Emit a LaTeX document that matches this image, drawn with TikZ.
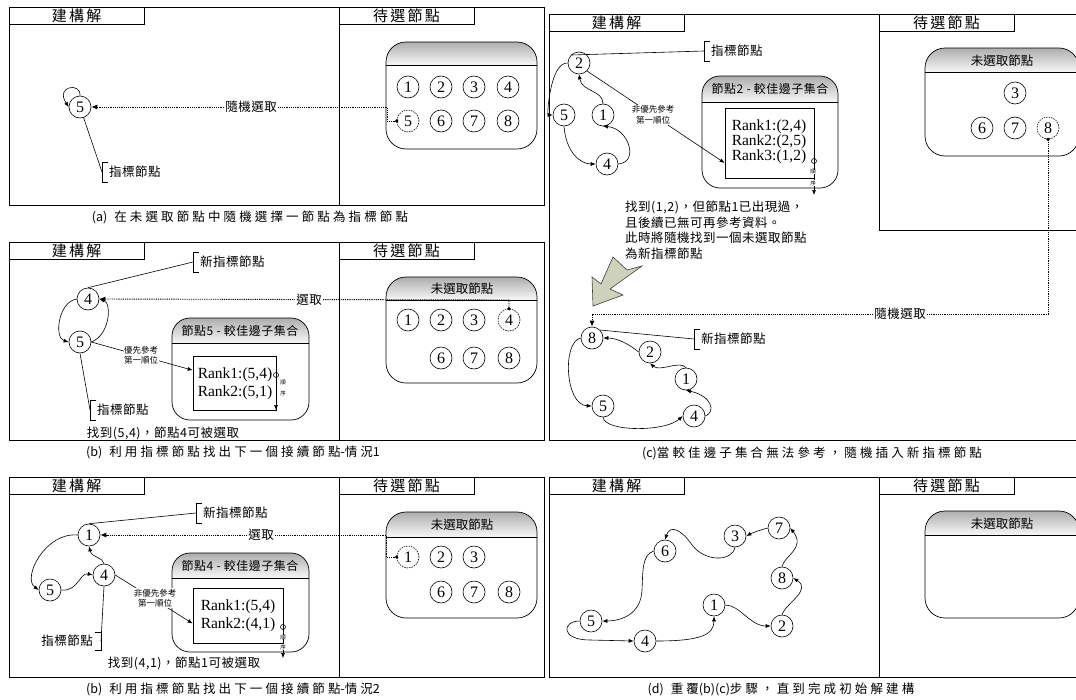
\documentclass[tikz,border=0pt]{standalone}
\usepackage{fontspec}
\setmainfont{Liberation Serif}
\newfontfamily\cjk{Noto Sans CJK TC}
\newfontfamily\cjkT[LetterSpace=15]{Noto Sans CJK TC}
\newfontfamily\cjkC[LetterSpace=25]{Noto Sans CJK TC}
\newfontfamily\cjkL[LetterSpace=4]{Noto Sans CJK TC}
\usetikzlibrary{arrows.meta}
\definecolor{arrowfill}{RGB}{207,210,186}
\newcommand\rbox[6]{%
  \begin{scope}
    \clip[rounded corners=#6] (#1,#2) rectangle (#3,#4);
    \shade[top color=black!32,bottom color=black!3] (#1,#2) rectangle (#3,#5);
  \end{scope}
  \draw[line width=0.7pt,rounded corners=#6] (#1,#2) rectangle (#3,#4);
  \draw[line width=0.7pt] (#1,#5) -- (#3,#5);
}
\newcommand\plain[1]{{\cjk #1}}
\tikzset{
  pan/.style={line width=0.7pt},
  vtx/.style={circle,draw,line width=0.6pt,minimum size=22pt,inner sep=0pt,font=\fontsize{16}{16}\selectfont},
  vtxd/.style={vtx,dash pattern=on 1.5pt off 1pt},
  ar/.style={line width=0.6pt,-{Latex[length=5pt,width=4pt]}},
  dotar/.style={line width=0.9pt,dash pattern=on 1.2pt off 1pt,-{Latex[length=6pt,width=5pt]}},
  ttl/.style={font=\cjkT\fontsize{15}{15}\selectfont,inner sep=0pt},
  lbl/.style={font=\cjkL\fontsize{12.5}{14}\selectfont,inner sep=1pt},
  captxt/.style={font=\cjkC\fontsize{12.5}{14}\selectfont},
  hdr/.style={font=\cjk\fontsize{12.5}{14}\selectfont},
  shdr/.style={font=\cjkL\fontsize{12}{14}\selectfont},
  smalltxt/.style={font=\cjk\fontsize{8.5}{10.5}\selectfont,align=center,fill=white,inner sep=0.5pt},
  rank/.style={font=\fontsize{15.5}{17.5}\selectfont,inner sep=0pt},
  ordtxt/.style={font=\cjk\fontsize{5.5}{6}\selectfont,inner sep=0pt,fill=white},
  oc/.style={circle,draw,line width=0.6pt,inner sep=0pt,minimum size=5pt},
  rrect/.style={draw,line width=0.7pt,inner sep=0pt}
}
\begin{document}
\begin{tikzpicture}[x=1pt,y=-1pt]
\useasboundingbox (0,0) rectangle (1076,699);
\fill[white] (0,0) rectangle (1076,699);

%%%%%%%%%%%%%%%% Panel (a)
\draw[pan] (9,7) rectangle (544,205);
\draw[pan] (339,7) -- (339,205);
\draw[pan] (9,7) rectangle (144,24);
\node[ttl] (aT1) at (76.5,15.5) {建構解};
\draw[pan] (339,7) rectangle (474,24);
\node[ttl] (aT2) at (406.5,15.5) {待選節點};
\node[vtx] (a5) at (80,107) {5};
\draw[ar] (a5.north) .. controls (81,82) and (55,86) .. (a5.west);
\coordinate (aB) at (102,172);
\draw[pan] (aB) ++(6,-10) -- ++(-6,0) -- ++(0,20) -- ++(6,0);
\draw[line width=0.6pt] (a5) -- (aB);
\node[lbl,anchor=west] (aBt) at (108,172) {指標節點};
\rbox{386}{42}{537}{149}{65}{20pt}
\foreach \n/\x/\y in {1/408/87,2/441/87,3/474/87,4/508/87,6/441/121,7/474/121,8/508/121}
  \node[vtx] (ak\n) at (\x,\y) {\n};
\node[vtxd] (ak5) at (408,121) {5};
\fill (ak5.west) circle (1.8pt);
\draw[dotar] (ak5.west) -- (387,121) -- (387,107) -- (a5.east);
\node[lbl,fill=white] (aL) at (251,107) {隨機選取};
\node[captxt] (aC) at (250,217) {\plain{(a)}\hspace{7pt}在未選取節點中隨機選擇一節點為指標節點};

%%%%%%%%%%%%%%%% Panel (b) case 1
\draw[pan] (9,242) rectangle (544,440);
\draw[pan] (339,242) -- (339,440);
\draw[pan] (9,242) rectangle (144,259);
\node[ttl] (bT1) at (76.5,250.5) {建構解};
\draw[pan] (339,242) rectangle (474,259);
\node[ttl] (bT2) at (406.5,250.5) {待選節點};
\node[vtx] (b4) at (88,299) {4};
\node[vtx] (b5) at (80,342) {5};
\draw[ar] (b4.west) .. controls (58,302) and (54,338) .. (b5.west);
\draw[ar] (b5.east) .. controls (110,335) and (112,303) .. (b4.east);
\coordinate (bN) at (193,262);
\draw[pan] (bN) ++(6,-10) -- ++(-6,0) -- ++(0,20) -- ++(6,0);
\draw[line width=0.6pt] (b4.north) -- (bN);
\node[lbl,anchor=west] (bNt) at (199,262) {新指標節點};
\coordinate (bP) at (90,410);
\draw[pan] (bP) ++(6,-10) -- ++(-6,0) -- ++(0,20) -- ++(6,0);
\draw[line width=0.6pt] (b5.south) -- (bP);
\node[lbl,anchor=west] (bPt) at (96,410) {指標節點};
\rbox{172}{318}{309}{420}{343}{18pt}
\node[shdr] (bH) at (240,331) {節點5 - 較佳邊子集合};
\node[rrect,minimum width=83pt,minimum height=54pt] (bR) at (234.5,383) {};
\node[rank] (bR1) at (235,375) {Rank1:(5,4)};
\node[rank] (bR2) at (235,393) {Rank2:(5,1)};
\node[oc] (bO) at (276,375) {};
\coordinate (bOe) at (276,410);
\draw[ar] (bO) -- (bOe);
\node[ordtxt] (bS1) at (283,383) {順};
\node[ordtxt] (bS2) at (283,393) {序};
\draw[ar] (b5.east) -- (bR.163);
\node[smalltxt] (bQ) at (141,355) {優先參考\\第一順位};
\node[lbl] (bF) at (163,433) {找到(5,4)，節點4可被選取};
\rbox{386}{277}{537}{383}{300}{20pt}
\node[hdr] (bKH) at (462,289) {未選取節點};
\foreach \n/\x/\y in {1/408/320,2/441/320,3/474/320,6/441/358,7/474/358,8/509/358}
  \node[vtx] (bk\n) at (\x,\y) {\n};
\node[vtxd] (bk4) at (509,320) {4};
\fill (bk4.north) circle (1.8pt);
\draw[dotar] (bk4.north) -- (509,300) -- (b4.east);
\node[lbl,fill=white] (bL) at (309,300) {選取};
\node[captxt] (bC) at (233,452) {\plain{(b)}\hspace{7pt}利用指標節點找出下一個接續節點\plain{-}情況\plain{1}};

%%%%%%%%%%%%%%%% Panel (b) case 2
\draw[pan] (9,477) rectangle (544,677);
\draw[pan] (339,477) -- (339,677);
\draw[pan] (9,477) rectangle (144,494);
\node[ttl] (eT1) at (76.5,485.5) {建構解};
\draw[pan] (339,477) rectangle (474,494);
\node[ttl] (eT2) at (406.5,485.5) {待選節點};
\node[vtx] (e1) at (89,535) {1};
\node[vtx] (e4) at (104,575) {4};
\node[vtx] (e5) at (50,590) {5};
\draw[ar] (e1.west) .. controls (45,532) and (22,578) .. (e5.west);
\draw[ar] (e5.east) .. controls (78,592) and (80,572) .. (e4.west);
\draw[ar] (e4.north) .. controls (103,557) and (92,558) .. (e1.south);
\coordinate (eN) at (196,513);
\draw[pan] (eN) ++(6,-10) -- ++(-6,0) -- ++(0,20) -- ++(6,0);
\draw[line width=0.6pt] (e1.north) -- (eN);
\node[lbl,anchor=west] (eNt) at (202,513) {新指標節點};
\coordinate (eP) at (101,641);
\draw[pan] (eP) ++(-6,-9) -- ++(6,0) -- ++(0,18) -- ++(-6,0);
\draw[line width=0.6pt] (e4.south) -- (eP);
\node[lbl,anchor=east] (ePt) at (94,641) {指標節點};
\rbox{172}{553}{309}{652}{578}{18pt}
\node[shdr] (eH) at (240,566) {節點4 - 較佳邊子集合};
\node[rrect,minimum width=90pt,minimum height=55pt] (eR) at (238,615.5) {};
\node[rank] (eR1) at (238,607) {Rank1:(5,4)};
\node[rank] (eR2) at (238,625) {Rank2:(4,1)};
\node[oc] (eO) at (283,627) {};
\coordinate (eOe) at (283,658);
\draw[ar] (eO) -- (eOe);
\node[ordtxt] (eS1) at (283,637) {順};
\node[ordtxt] (eS2) at (283,647) {序};
\draw[ar] (e4.east) -- (eR.190);
\node[smalltxt] (eQ) at (155,598) {非優先參考\\第一順位};
\node[lbl] (eF) at (184,663) {找到(4,1)，節點1可被選取};
\rbox{386}{512}{537}{618}{537}{20pt}
\node[hdr] (eKH) at (462,525) {未選取節點};
\foreach \n/\x/\y in {2/441/557,3/474/557,6/441/592,7/474/592,8/509/592}
  \node[vtx] (ek\n) at (\x,\y) {\n};
\node[vtxd] (ek1) at (408,557) {1};
\fill (ek1.west) circle (1.8pt);
\draw[dotar] (ek1.west) -- (386,557) -- (386,535) -- (e1.east);
\node[lbl,fill=white] (eL) at (261,535) {選取};
\node[captxt] (eC) at (233,689) {\plain{(b)}\hspace{7pt}利用指標節點找出下一個接續節點\plain{-}情況\plain{2}};

%%%%%%%%%%%%%%%% Panel (c)
\draw[pan] (549,14) rectangle (1082,440);
\draw[pan] (879,14) -- (879,230) -- (1082,230);
\draw[pan] (549,14) rectangle (684,31);
\node[ttl] (cT1) at (616.5,22.5) {建構解};
\draw[pan] (879,14) rectangle (1014,31);
\node[ttl] (cT2) at (946.5,22.5) {待選節點};
\node[vtx] (c2) at (579,63) {2};
\node[vtx] (c5) at (564,115) {5};
\node[vtx] (c1) at (603,115) {1};
\node[vtx] (c4) at (607,164) {4};
\draw[ar] (c2.west) .. controls (550,62) and (547,115) .. (c5.west);
\draw[ar] (c5.south) .. controls (566,152) and (580,164) .. (c4.west);
\draw[ar] (c4.east) .. controls (640,162) and (628,128) .. (c1.south);
\draw[ar] (c1.north) .. controls (603,90) and (582,92) .. (c2.south);
\coordinate (cN) at (704,51);
\draw[pan] (cN) ++(6,-10) -- ++(-6,0) -- ++(0,20) -- ++(6,0);
\draw[line width=0.6pt] (c2.north west) -- (cN);
\node[lbl,anchor=west] (cNt) at (710,51) {指標節點};
\rbox{702}{76}{838}{188}{102}{18pt}
\node[shdr] (cH) at (770,89) {節點2 - 較佳邊子集合};
\node[rrect,minimum width=89pt,minimum height=70pt] (cR) at (769.5,143) {};
\node[rank] (cR1) at (769,127) {Rank1:(2,4)};
\node[rank] (cR2) at (769,142) {Rank2:(2,5)};
\node[rank] (cR3) at (769,157) {Rank3:(1,2)};
\node[oc] (cO) at (814,161) {};
\coordinate (cOe) at (814,195);
\draw[ar] (cO) -- (cOe);
\node[ordtxt] (cS1) at (813,172) {順};
\node[ordtxt] (cS2) at (813,183) {序};
\draw[ar] (c2.south east) -- (cR.204);
\node[smalltxt] (cQ) at (653,115) {非優先參考\\第一順位};
\node[lbl,anchor=west] (cTx1) at (624,207) {找到(1,2)，但節點1已出現過，};
\node[lbl,anchor=west] (cTx2) at (624,222.5) {且後續已無可再參考資料。};
\node[lbl,anchor=west] (cTx3) at (624,238) {此時將隨機找到一個未選取節點};
\node[lbl,anchor=west] (cTx4) at (624,253.5) {為新指標節點};
\filldraw[fill=arrowfill,draw=black!75,line width=0.6pt]
  (613,257) -- (627,270) -- (642,266) -- (610,289) -- (623,295) -- (593,306) -- (592,277) -- (601,284) -- cycle;
\rbox{925}{48}{1079}{156}{72}{20pt}
\node[hdr] (cKH) at (1002,61) {未選取節點};
\foreach \n/\x/\y in {3/1015/93,6/982/128,7/1015/128}
  \node[vtx] (ck\n) at (\x,\y) {\n};
\node[vtxd] (ck8) at (1048,128) {8};
\node[vtx] (s8) at (592,338) {8};
\node[vtx] (s2) at (650,352) {2};
\node[vtx] (s1) at (686,379) {1};
\node[vtx] (s5) at (603,406) {5};
\node[vtx] (s4) at (694,416) {4};
\fill (ck8.south) circle (1.8pt);
\draw[dotar] (ck8.south) -- (1048,314) -- (592,314) -- (s8.north);
\node[lbl,fill=white] (cL) at (900,314) {隨機選取};
\draw[ar] (s8.west) .. controls (562,342) and (565,405) .. (s5.west);
\draw[ar] (s5.south) .. controls (605,432) and (665,432) .. (s4.west);
\draw[ar] (s4.east) .. controls (716,412) and (712,396) .. (s1.south);
\draw[ar] (s1.north) .. controls (680,360) and (660,372) .. (s2.south);
\draw[ar] (s2.west) .. controls (630,345) and (618,338) .. (s8.east);
\coordinate (sN) at (694,339);
\draw[pan] (sN) ++(6,-10) -- ++(-6,0) -- ++(0,20) -- ++(6,0);
\draw[line width=0.6pt] (s8.north east) -- (sN);
\node[lbl,anchor=west] (sNt) at (700,339) {新指標節點};
\node[captxt] (cC) at (812,453) {\plain{(c)}當較佳邊子集合無法參考，隨機插入新指標節點};

%%%%%%%%%%%%%%%% Panel (d)
\draw[pan] (549,477) rectangle (1082,677);
\draw[pan] (879,477) -- (879,677);
\draw[pan] (549,477) rectangle (684,494);
\node[ttl] (dT1) at (616.5,485.5) {建構解};
\draw[pan] (879,477) rectangle (1014,494);
\node[ttl] (dT2) at (946.5,485.5) {待選節點};
\node[vtx] (d7) at (779,528) {7};
\node[vtx] (d3) at (735,536) {3};
\node[vtx] (d6) at (665,551) {6};
\node[vtx] (d8) at (782,578) {8};
\node[vtx] (d1) at (714,605) {1};
\node[vtx] (d5) at (591,621) {5};
\node[vtx] (d4) at (645,641) {4};
\node[vtx] (d2) at (782,626) {2};
\draw[ar] (d5.west) .. controls (562,621) and (560,640) .. (590,640) -- (d4.west);
\draw[ar] (d4.east) .. controls (700,641) and (714,635) .. (d1.south);
\draw[ar] (d1.east) .. controls (740,605) and (750,626) .. (d2.west);
\draw[ar] (d2.north) .. controls (786,603) and (812,590) .. (d8.east);
\draw[ar] (d8.north) .. controls (784,556) and (806,548) .. (d7.east);
\draw[ar] (d7.west) .. controls (760,530) and (752,533) .. (d3.east);
\draw[ar] (d3.south) .. controls (732,562) and (705,562) .. (692,545) .. controls (682,530) and (670,524) .. (d6.north);
\draw[ar] (d6.west) .. controls (642,555) and (643,570) .. (642,590) .. controls (641,615) and (620,621) .. (d5.east);
\rbox{925}{511}{1079}{618}{535}{20pt}
\node[hdr] (dKH) at (1002,524) {未選取節點};
\node[captxt] (dC) at (781,689) {\plain{(d)}\hspace{7pt}重覆\plain{(b)(c)}步驟，直到完成初始解建構};
\end{tikzpicture}
\end{document}
